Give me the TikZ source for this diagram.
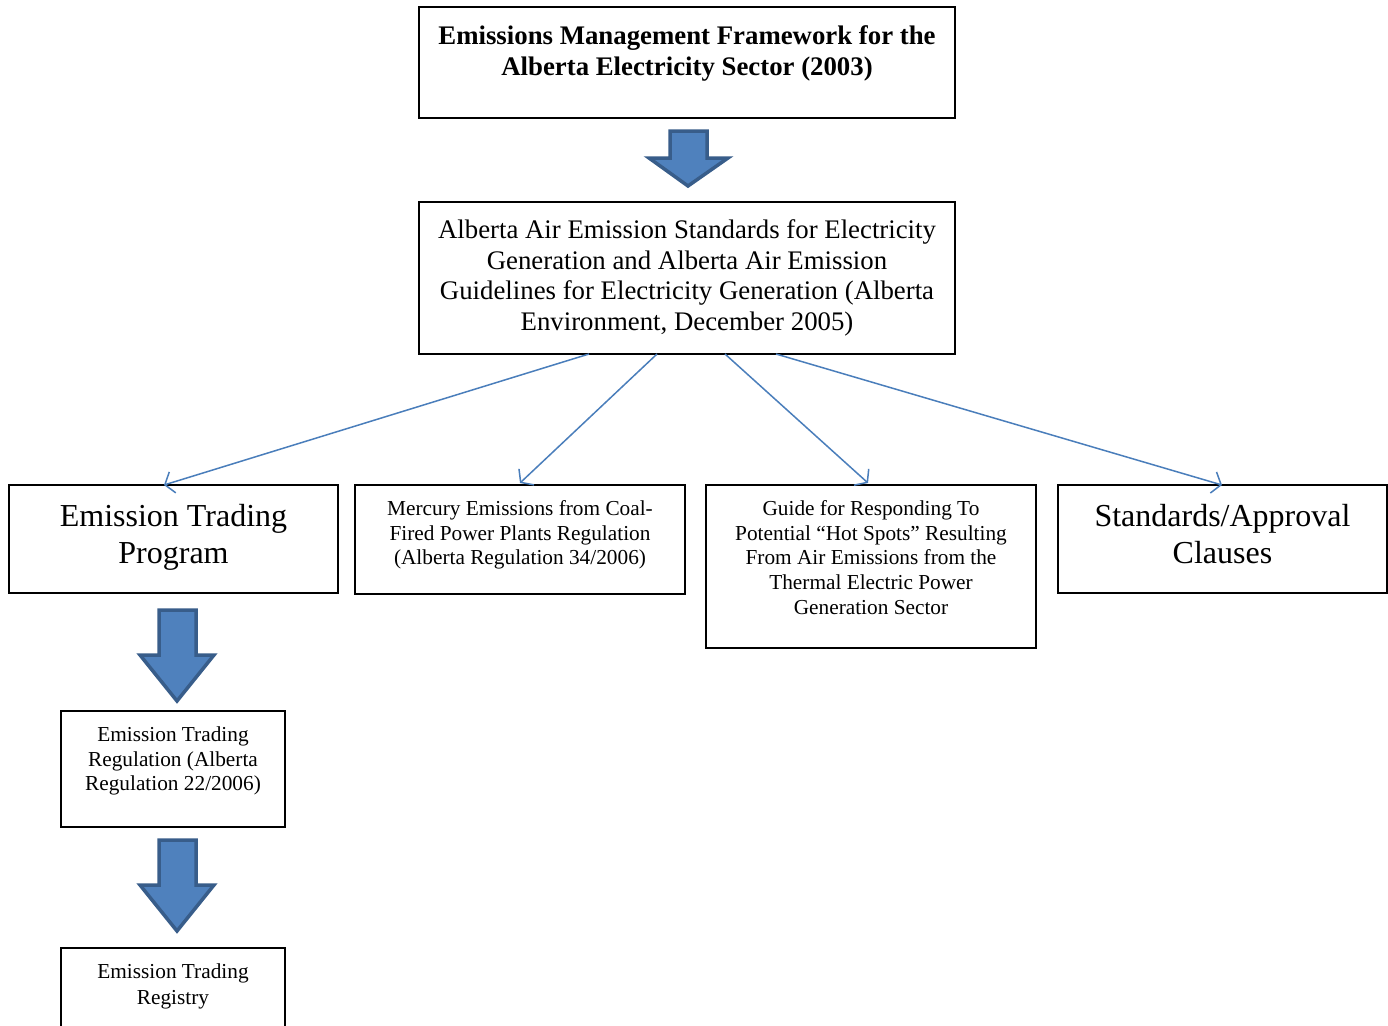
\documentclass[tikz,border=0pt]{standalone}
\usepackage{fontspec}
\setmainfont{Liberation Serif}
\usetikzlibrary{arrows.meta}
\definecolor{arrfill}{HTML}{4F81BD}
\definecolor{arrdraw}{HTML}{385D8A}
\definecolor{linkblue}{HTML}{4A7EBB}
\tikzset{
  box/.style={draw=black, line width=1.6pt, rectangle, inner sep=0pt},
  txt/.style={anchor=north, inner sep=0pt, align=center},
  link/.style={draw=linkblue, line width=1.5pt, -{Straight Barb[length=8pt,width=22pt,line width=1.5pt]}},
  blockarrow/.style={fill=arrfill, draw=arrdraw, line width=3.5pt, line join=miter}
}
\begin{document}
\begin{tikzpicture}[x=1pt,y=-1pt]
\clip (0,0) rectangle (1388,1025);
\fill[white] (0,0) rectangle (1388,1025);
% boxes
\node[box, minimum width=536pt, minimum height=111pt] (top) at (687,62.5) {};
\node[box, minimum width=536pt, minimum height=152pt] (std) at (687,278) {};
\node[box, minimum width=329pt, minimum height=108pt] (etp) at (173.5,539) {};
\node[box, minimum width=330pt, minimum height=109pt] (hg) at (520,539.5) {};
\node[box, minimum width=330pt, minimum height=163pt] (guide) at (871,566.5) {};
\node[box, minimum width=329pt, minimum height=108pt] (sac) at (1222.5,539) {};
\node[box, minimum width=224pt, minimum height=116pt] (etr) at (173,769) {};
\node[box, minimum width=224pt, minimum height=100pt] (reg) at (173,998) {};
% texts
\node[txt, font=\fontsize{26.8}{31}\selectfont\bfseries] (toptxt) at (687,25.5) {Emissions Management Framework for the\\Alberta Electricity Sector (2003)};
\node[txt, font=\fontsize{26.8}{30.6}\selectfont] (stdtxt) at (687,219.5) {Alberta Air Emission Standards for Electricity\\Generation and Alberta Air Emission\\Guidelines for Electricity Generation (Alberta\\Environment, December 2005)};
\node[txt, font=\fontsize{32}{37}\selectfont] (etptxt) at (173.5,504) {Emission Trading\\Program};
\node[txt, font=\fontsize{32}{37}\selectfont] (sactxt) at (1222.5,504) {Standards/Approval\\Clauses};
\node[txt, font=\fontsize{21.3}{24.6}\selectfont] (hgtxt) at (520,500.5) {Mercury Emissions from Coal-\\Fired Power Plants Regulation\\(Alberta Regulation 34/2006)};
\node[txt, font=\fontsize{21.3}{24.6}\selectfont] (guidetxt) at (871,500.5) {Guide for Responding To\\Potential “Hot Spots” Resulting\\From Air Emissions from the\\Thermal Electric Power\\Generation Sector};
\node[txt, font=\fontsize{21.3}{24.6}\selectfont] (etrtxt) at (173,726.5) {Emission Trading\\Regulation (Alberta\\Regulation 22/2006)};
\node[txt, font=\fontsize{21.3}{26}\selectfont] (regtxt) at (173,963.5) {Emission Trading\\Registry};
% connectors
\coordinate (s1) at (589,354); \coordinate (e1) at (164,485);
\coordinate (s2) at (657,354); \coordinate (e2) at (520,483);
\coordinate (s3) at (725,354); \coordinate (e3) at (868,483);
\coordinate (s4) at (776,354); \coordinate (e4) at (1222,485);
\draw[link] (s1) -- (e1);
\draw[link] (s2) -- (e2);
\draw[link] (s3) -- (e3);
\draw[link] (s4) -- (e4);
% block arrows
\draw[blockarrow] (670,131) -- (707,131) -- (707,158) -- (728,158) -- (688,186) -- (649,158) -- (670,158) -- cycle;
\draw[blockarrow] (159,610) -- (196,610) -- (196,655) -- (214,655) -- (177,701) -- (140,655) -- (159,655) -- cycle;
\draw[blockarrow] (159,840) -- (196,840) -- (196,885) -- (214,885) -- (177,931) -- (140,885) -- (159,885) -- cycle;
\end{tikzpicture}
\end{document}
